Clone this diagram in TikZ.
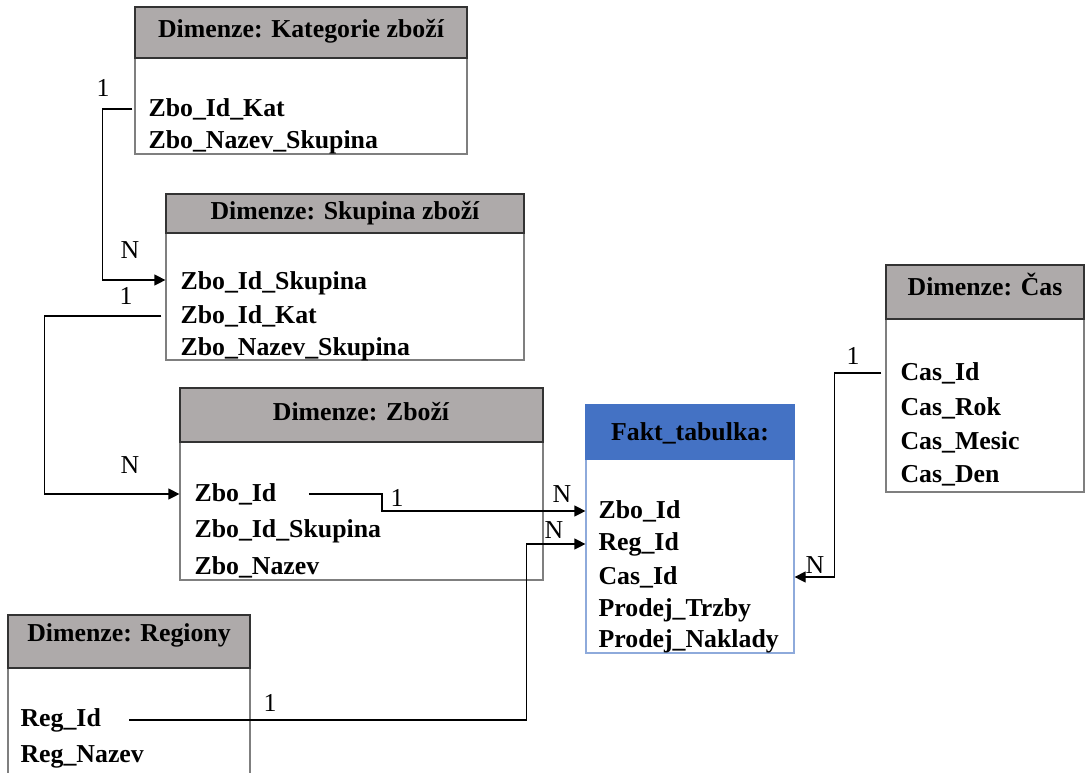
\documentclass[tikz,border=0pt]{standalone}
\usepackage{fontspec}
\setmainfont{Liberation Serif}
\usetikzlibrary{arrows.meta, fit}
\definecolor{hgrey}{HTML}{AEAAAA}
\definecolor{hblue}{HTML}{4472C4}
\definecolor{lblue}{HTML}{8EAADB}
\definecolor{bgrey}{HTML}{7F7F7F}
\tikzset{
  every picture/.style={line width=0.6pt, font=\fontsize{12.9}{15}\selectfont},
  head/.style={draw=black!80, fill=#1, inner sep=0pt, line width=0.8pt},
  head/.default=hgrey,
  body/.style={draw=#1, fill=white, inner sep=0pt},
  body/.default=bgrey,
  title/.style={font=\fontsize{12.9}{15}\selectfont\bfseries, inner sep=0pt},
  row/.style={anchor=west, inner sep=0pt, font=\fontsize{12.9}{15}\selectfont\bfseries},
  link/.style={-{Triangle[length=5.5pt, width=5.5pt]}, draw=black},
  card/.style={inner sep=1pt},
}

\begin{document}
\begin{tikzpicture}[x=0.5pt, y=-0.5pt]
  \clip (0,0) rectangle (1085,772);
  % Dimenze: Kategorie zboží
  \node[body, fit={(135,58)(467,154)}] (katBody) {};
  \node[head, fit={(135,7)(467,58)}] (katHead) {};
  \node[title] (katTitle) at (301,31) {Dimenze: Kategorie zboží};
  \node[row] (katId) at (148,109) {Zbo\_Id\_Kat};
  \node[row] (katNazev) at (148,142) {Zbo\_Nazev\_Skupina};
  % Dimenze: Skupina zboží
  \node[body, fit={(166,233)(524,360)}] (skupBody) {};
  \node[head, fit={(166,194)(524,233)}] (skupHead) {};
  \node[title] (skupTitle) at (345,213) {Dimenze: Skupina zboží};
  \node[row] (skupId) at (180,283) {Zbo\_Id\_Skupina};
  \node[row] (skupKat) at (180,316) {Zbo\_Id\_Kat};
  \node[row] (skupNazev) at (180,349) {Zbo\_Nazev\_Skupina};
  % Dimenze: Zboží
  \node[body, fit={(180,442)(543,580)}] (zboBody) {};
  \node[head, fit={(180,388)(543,442)}] (zboHead) {};
  \node[title] (zboTitle) at (361,412) {Dimenze: Zboží};
  \node[row] (zboId) at (194,494) {Zbo\_Id};
  \node[row] (zboSkup) at (194,531) {Zbo\_Id\_Skupina};
  \node[row] (zboNazev) at (194,567) {Zbo\_Nazev};
  % Fakt_tabulka
  \node[body=lblue, fit={(586,459)(794,653)}] (faktBody) {};
  \node[head=hblue, draw=hblue, fit={(586,405)(794,459)}] (faktHead) {};
  \node[title] (faktTitle) at (690,433) {Fakt\_tabulka:};
  \node[row] (faktZbo) at (598,511) {Zbo\_Id};
  \node[row] (faktReg) at (598,544) {Reg\_Id};
  \node[row] (faktCas) at (598,577) {Cas\_Id};
  \node[row] (faktTrzby) at (598,610) {Prodej\_Trzby};
  \node[row] (faktNaklady) at (598,641) {Prodej\_Naklady};
  % Dimenze: Čas
  \node[body, fit={(886,319)(1084,492)}] (casBody) {};
  \node[head, fit={(886,265)(1084,319)}] (casHead) {};
  \node[title] (casTitle) at (985,284) {Dimenze: Čas};
  \node[row] (casId) at (900,373) {Cas\_Id};
  \node[row] (casRok) at (900,408) {Cas\_Rok};
  \node[row] (casMesic) at (900,442) {Cas\_Mesic};
  \node[row] (casDen) at (900,476) {Cas\_Den};
  % Dimenze: Regiony
  \node[body, fit={(8,668)(250,800)}] (regBody) {};
  \node[head, fit={(8,615)(250,668)}] (regHead) {};
  \node[title] (regTitle) at (129,635) {Dimenze: Regiony};
  \node[row] (regId) at (20,720) {Reg\_Id};
  \node[row] (regNazev) at (20,757) {Reg\_Nazev};
  % vazby 1:N
  \draw[link] ([xshift=-1pt]katBody.west |- katId) -- ++(-30,0) |- ([yshift=1.5pt]skupBody.west |- skupId);
  \node[card] (katOne) at (103,88) {1};
  \node[card] (skupN) at (130,250) {N};
  \draw[link] ([xshift=-2pt]skupBody.west |- skupKat) -- ++(-117,0) |- (zboBody.west |- zboId);
  \node[card] (skupOne) at (126,296) {1};
  \node[card] (zboN) at (130,465) {N};
  \draw[link] ([xshift=16pt]zboId.east) -- ++(73,0) |- (faktBody.west |- faktZbo);
  \node[card] (zboOne) at (397,498) {1};
  \node[card] (faktN1) at (562,494) {N};
  \draw[link] ([xshift=14pt]regId.east) -| ([xshift=-29.5pt]faktBody.west |- faktReg) -- (faktBody.west |- faktReg);
  \node[card] (regOne) at (270,703) {1};
  \node[card] (faktN2) at (554,530) {N};
  \draw[link] ([xshift=-2pt]casBody.west |- casId) -- ++(-47,0) |- (faktBody.east |- faktCas);
  \node[card] (casOne) at (853,356) {1};
  \node[card] (faktN3) at (815,565) {N};
\end{tikzpicture}
\end{document}
